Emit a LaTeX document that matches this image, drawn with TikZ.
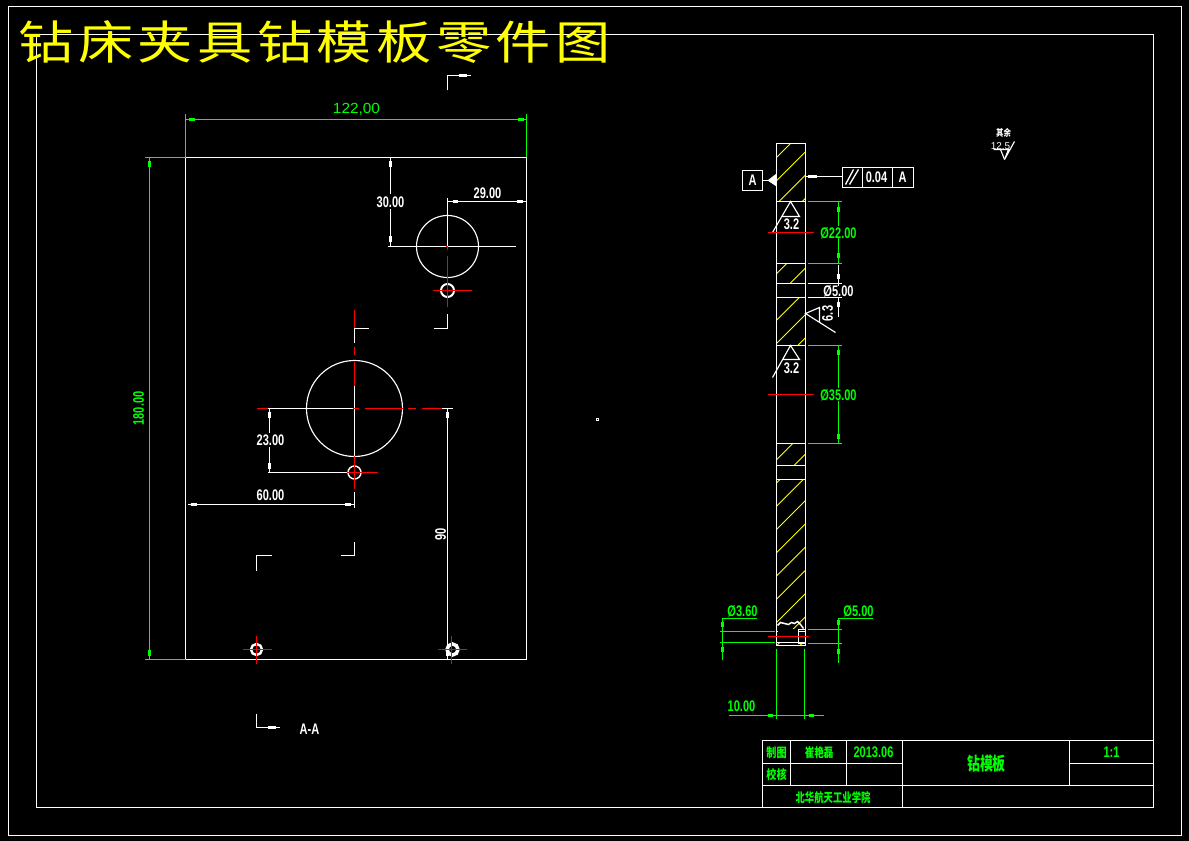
\documentclass[tikz,border=0pt]{standalone}
\usepackage{fontspec}
\setmainfont{Liberation Sans}
\newfontfamily\cjk{Noto Sans CJK SC}
\newfontfamily\cjktitle[LetterSpace=8]{Noto Sans CJK SC}
\newcommand{\nar}[2][0.72]{\scalebox{#1}[1]{\fontsize{11.5}{12}\selectfont\bfseries #2}}
\newcommand{\cn}[3][0.8]{\scalebox{#1}[1]{\fontsize{#2}{#2}\selectfont\cjk\bfseries #3}}
\definecolor{dimgreen}{HTML}{00FF00}
\definecolor{cutred}{HTML}{FF0000}
\definecolor{hatchyel}{HTML}{FFFF00}
\tikzset{
  wl/.style={draw=white,line width=0.85pt},
  gl/.style={draw=dimgreen,line width=0.85pt},
  rl/.style={draw=cutred,line width=0.95pt},
  wtick/.style={draw=white,line width=2.2pt},
  gtick/.style={draw=dimgreen,line width=2.2pt},
  hl/.style={draw=hatchyel,line width=0.75pt},
  wtxt/.style={text=white,inner sep=0pt},
  gtxt/.style={text=dimgreen,inner sep=0pt},
}
\newcommand{\hatchband}[2]{%
  \begin{scope}
    \clip (776,#1) rectangle (805,#2);
    \foreach \k in {157,180.25,...,690,133.75}
      \draw[hl] (776,\k) -- ++(29,-29);
  \end{scope}}
\begin{document}
\begin{tikzpicture}[x=0.75pt,y=-0.75pt]
\fill[black,use as bounding box] (0,0) rectangle (1189,841);
\begin{scope}[shift={(0.5,0.5)}]
% frames
\draw[wl] (8,6) rectangle (1181,835);
\draw[wl] (36,34) rectangle (1153,807);
% title
\node[anchor=west,inner sep=0pt,text=hatchyel] (title) at (18,42)
  {\scalebox{1.2}[1]{\fontsize{34.5}{36}\selectfont\cjktitle 钻床夹具钻模板零件图}};
% plate
\draw[wl] (185,157) rectangle (526,659);
% 122 dim
\draw[gl] (185,114) -- (185,157);
\draw[gl] (526,114) -- (526,157);
\draw[gl] (185,119) -- (526,119);
\draw[gtick] (188,119) -- (194,119);
\draw[gtick] (517,119) -- (523,119);
\node[gtxt] (d122) at (356,109) {\scalebox{1.05}[1]{\fontsize{11}{12}\selectfont 122,00}};
% 180 dim
\draw[gl] (144,157) -- (185,157);
\draw[gl] (144,659) -- (185,659);
\draw[gl] (149,157) -- (149,659);
\draw[gtick] (149,161) -- (149,167);
\draw[gtick] (149,649) -- (149,655);
\node[gtxt,rotate=90] (d180) at (138,408) {\textcolor{dimgreen}{\nar{180.00}}};
% upper hole
\draw[wl] (447,246) circle (31);
\draw[wl] (387,246) -- (515,246);
\draw[wl] (447,198) -- (447,246);
\draw[rl] (447,246) -- (447,250);
\draw[rl] (445,246) -- (447,246);
\draw[white,line width=1.5pt] (447,290) circle (6.5);
\draw[rl] (432,290) -- (471,290);
\draw[rl] (447,256) -- (447,307);
% 29 dim
\draw[wl] (447,201) -- (526,201);
\draw[wtick] (452,201) -- (457,201);
\draw[wtick] (516,201) -- (522,201);
\node[wtxt] (d29) at (487,193) {\nar{29.00}};
% 30 dim
\draw[wl] (390,157) -- (390,194);
\draw[wl] (390,209) -- (390,246);
\draw[wtick] (390,161) -- (390,167);
\draw[wtick] (390,236) -- (390,242);
\node[wtxt] (d30) at (390,202) {\nar{30.00}};
% section corners
\draw[wl] (433,328) -- (447,328) -- (447,314);
\draw[wl] (368,328) -- (354,328) -- (354,343);
\draw[rl] (354,310) -- (354,328);
\draw[rl] (354,347) -- (354,355);
\draw[rl] (354,362) -- (354,386);
\draw[wl] (340,555) -- (354,555) -- (354,541);
\draw[wl] (271,555) -- (256,555) -- (256,570);
% big hole
\draw[wl] (354,408) circle (48);
\draw[wl] (354,386) -- (354,456);
\draw[wl] (267,408) -- (352,408);
\draw[rl] (256,408) -- (267,408);
\draw[rl] (352,408) -- (358,408);
\draw[rl] (364,408) -- (402,408);
\draw[rl] (407,408) -- (415,408);
\draw[rl] (421,408) -- (441,408);
\draw[wl] (441,408) -- (452,408);
% small hole
\draw[wl] (267,472) -- (346,472);
\draw[white,line width=1.1pt] (354,472) circle (6.5);
\draw[rl] (346,472) -- (377,472);
\draw[rl] (354,456) -- (354,488);
% 23 dim
\draw[wl] (269,408) -- (269,433);
\draw[wl] (269,447) -- (269,472);
\draw[wtick] (269,412) -- (269,418);
\draw[wtick] (269,463) -- (269,469);
\node[wtxt] (d23) at (270,440) {\nar{23.00}};
% 60 dim
\draw[wl] (354,491) -- (354,507);
\draw[wl] (187,504) -- (354,504);
\draw[wtick] (190,504) -- (196,504);
\draw[wtick] (344,504) -- (350,504);
\node[wtxt] (d60) at (270,495) {\nar{60.00}};
% 90 dim
\draw[wl] (447,408) -- (447,659);
\draw[wtick] (447,412) -- (447,418);
\draw[wtick] (447,649) -- (447,655);
\node[wtxt,rotate=90] (d90) at (440,534) {\nar{90}};
% bottom holes
\draw[white,line width=1.8pt] (256,649) circle (5.5);
\draw[white,line width=2.6pt] (452,649) circle (5.5);
\draw[rl] (242,649) -- (271,649);
\draw[rl] (256,635) -- (256,663);
\draw[rl] (437,649) -- (466,649);
\draw[rl] (451,635) -- (451,663);
% section marks
\draw[wl] (256,713) -- (256,727) -- (279,727);
\draw[wtick] (267,727) -- (275,727);
\draw[wl] (447,90) -- (447,75) -- (470,75);
\draw[wtick] (458,75) -- (466,75);
\node[wtxt] (aa) at (309,729) {\nar{A-A}};
\fill[white] (595,418) rectangle (598,421);
\fill[black] (596,419) rectangle (597,420);
% side view
\hatchband{143}{201}
\hatchband{263}{283}
\hatchband{297}{345}
\hatchband{443}{465}
\hatchband{479}{631}
\hatchband{642}{645}
\draw[wl] (776,143) rectangle (805,645);
\foreach \yy in {201,263,283,297,345,443,465,479,631,642}
  \draw[wl] (776,\yy) -- (805,\yy);
\fill[black] (777,628) rectangle (798,631);
\draw[white,line width=1.1pt] (777,625) -- (780,622) -- (784,623) -- (788,624) -- (791,622) -- (794,623) -- (797,621) -- (800,624) -- (803,628);
\draw[wl] (798,629) rectangle (805,643);
\draw[rl] (767,636) -- (808,636);
% datum
\node[draw=white,line width=0.85pt,minimum width=15pt,minimum height=15pt,inner sep=0pt,text=white] (datum) at (752,180) {\nar{A}};
\coordinate (datumtip) at (776,180);
\draw[wl] (datum) -- (datumtip);
\fill[white] (776,173) -- (767,180) -- (776,186) -- cycle;
% tolerance frame
\draw[wl] (842,167) rectangle (913,187);
\draw[wl] (862,167) -- (862,187);
\draw[wl] (892,167) -- (892,187);
\draw[wl] (842,176) -- (805,176);
\draw[wtick] (807,176) -- (816,176);
\draw[white,line width=1pt] (845,184) -- (853,169) (849,184) -- (858,169);
\node[wtxt] (tol) at (876,177) {\nar{0.04}};
\node[wtxt] (tola) at (902,177) {\nar{A}};
% roughness 3.2
\draw[wl] (772,232) -- (790,201) -- (799,216) -- (782,216);
\node[wtxt] (r1) at (791,224) {\nar{3.2}};
\draw[rl] (767,232) -- (813,232);
\draw[wl] (772,377) -- (790,345) -- (799,359) -- (782,359);
\node[wtxt] (r2) at (791,368) {\nar{3.2}};
\draw[rl] (767,394) -- (813,394);
% roughness 6.3
\draw[wl] (835,332) -- (805,313) -- (819,307) -- (819,322);
\node[wtxt,rotate=90] (r3) at (827,313) {\nar{6.3}};
% dim 22
\draw[gl] (807,201) -- (841,201);
\draw[gl] (807,263) -- (841,263);
\draw[gl] (838,201) -- (838,226);
\draw[gl] (838,238) -- (838,263);
\draw[gtick] (838,207) -- (838,212);
\draw[gtick] (838,253) -- (838,258);
\node[gtxt] (d22) at (838,232.5) {\textcolor{dimgreen}{\nar{Ø22.00}}};
% dim 5 white
\draw[wl] (807,283) -- (841,283);
\draw[wl] (807,297) -- (841,297);
\draw[wl] (838,265) -- (838,286);
\draw[wl] (838,296) -- (838,317);
\draw[wtick] (838,274) -- (838,279);
\draw[wtick] (838,302) -- (838,307);
\node[wtxt,fill=black] (d5) at (838,291) {\nar{Ø5.00}};
% dim 35
\draw[gl] (807,345) -- (841,345);
\draw[gl] (807,443) -- (841,443);
\draw[gl] (838,345) -- (838,388);
\draw[gl] (838,401) -- (838,443);
\draw[gtick] (838,350) -- (838,355);
\draw[gtick] (838,434) -- (838,439);
\node[gtxt] (d35) at (838,395) {\textcolor{dimgreen}{\nar{Ø35.00}}};
% dim 3.6
\draw[gl] (719,631) -- (774,631);
\draw[gl] (719,642) -- (774,642);
\draw[gl] (756,618) -- (722,618) -- (722,659);
\draw[gtick] (722,621) -- (722,626);
\draw[gtick] (722,646) -- (722,651);
\node[gtxt] (d36) at (742,611) {\textcolor{dimgreen}{\nar{Ø3.60}}};
% dim 5 green
\draw[gl] (807,629) -- (841,629);
\draw[gl] (807,643) -- (841,643);
\draw[gl] (872,618) -- (838,618) -- (838,662);
\draw[gtick] (838,619) -- (838,624);
\draw[gtick] (838,648) -- (838,653);
\node[gtxt] (d50) at (858,611) {\textcolor{dimgreen}{\nar{Ø5.00}}};
% dim 10
\draw[gl] (776,648) -- (776,718);
\draw[gl] (804,648) -- (804,718);
\draw[gl] (728,715) -- (823,715);
\draw[gtick] (767,715) -- (772,715);
\draw[gtick] (808,715) -- (813,715);
\node[gtxt] (d10) at (741,706) {\textcolor{dimgreen}{\nar{10.00}}};
% general roughness
\node[wtxt] (qy) at (1003,132) {\cn{7}{其余}};
\node[wtxt] (r125) at (1000,146) {\fontsize{7.5}{8}\selectfont 12.5};
\draw[wl] (993,149) -- (1008,149) -- (1004,159) -- (1014,141);
\draw[wl] (1000,149) -- (1004,159);
% title block
\draw[wl] (762,740) rectangle (1153,807);
\draw[wl] (762,763) -- (902,763);
\draw[wl] (1069,763) -- (1153,763);
\draw[wl] (762,785) -- (1153,785);
\draw[wl] (790,740) -- (790,785);
\draw[wl] (846,740) -- (846,785);
\draw[wl] (902,740) -- (902,807);
\draw[wl] (1069,740) -- (1069,785);
\node[gtxt] (t1) at (776,752) {\textcolor{dimgreen}{\cn{9.5}{制图}}};
\node[gtxt] (t2) at (776,774) {\textcolor{dimgreen}{\cn{9.5}{校核}}};
\node[gtxt] (t3) at (818.5,752) {\textcolor{dimgreen}{\cn[0.75]{9.5}{崔艳磊}}};
\node[gtxt] (t4) at (873,752) {\textcolor{dimgreen}{\nar{2013.06}}};
\node[gtxt] (t5) at (986,763) {\textcolor{dimgreen}{\cn[0.72]{13.5}{钻模板}}};
\node[gtxt] (t6) at (1111,752) {\textcolor{dimgreen}{\nar{1:1}}};
\node[gtxt] (t7) at (832.5,797) {\textcolor{dimgreen}{\cn[0.74]{9.5}{北华航天工业学院}}};
\end{scope}
\end{tikzpicture}
\end{document}
